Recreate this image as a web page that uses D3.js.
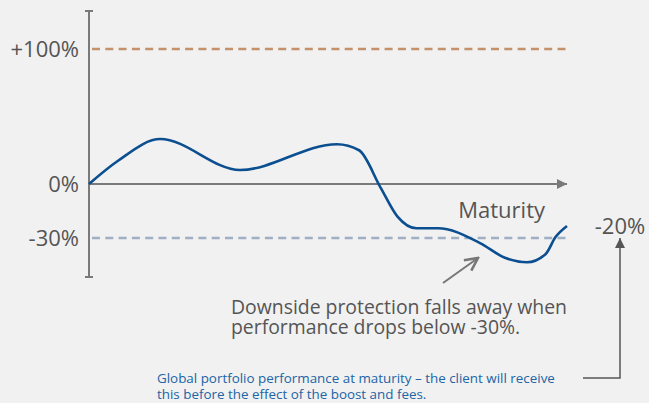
<!DOCTYPE html>
<html>
<head>
<meta charset="utf-8">
<script src="https://cdn.jsdelivr.net/npm/d3@7"></script>
<style>
  body { margin: 0; background: #f1f1f1; }
  svg { display: block; font-family: "Open Sans", sans-serif; }
</style>
</head>
<body>
<svg id="chart"></svg>
<script>
// maturity progress (0..100) and portfolio performance (%)
var timeline = [0, 6, 14.9, 31.6, 51.9, 56.5, 61, 64.5, 68.5, 73, 81.8, 87, 91.6, 95.5, 97.6, 100];
var performance = [0, 17, 33.3, 10.4, 29.5, 25, -2, -18, -24.6, -24.6, -32.8, -41, -43.5, -39, -29.5, -23.3];
var levels = [100, 0, -30];
var levelLabels = ["+100%", "0%", "-30%"];
var finalLabel = "-20%";

var width = 649, height = 403;
var svg = d3.select("#chart").attr("width", width).attr("height", height);

var x = d3.scaleLinear().domain([0, 100]).range([89, 567]);
// schematic: the y scale is not uniform above and below zero
var y = d3.scaleLinear().domain([-30, 0, 100]).range([238, 184, 49]);

var axisGrey = "#7a7a7a";
var textGrey = "#555";

var defs = svg.append("defs");
defs.append("marker").attr("id", "tri")
    .attr("viewBox", "0 0 10 10").attr("refX", 10).attr("refY", 5)
    .attr("markerWidth", 14).attr("markerHeight", 10).attr("markerUnits", "userSpaceOnUse")
    .attr("orient", "auto")
  .append("path").attr("d", "M0,0L10,5L0,10Z").attr("fill", axisGrey);
defs.append("marker").attr("id", "triUp")
    .attr("viewBox", "0 0 10 10").attr("refX", 10).attr("refY", 5)
    .attr("markerWidth", 14).attr("markerHeight", 10).attr("markerUnits", "userSpaceOnUse")
    .attr("orient", "auto")
  .append("path").attr("d", "M0,0L10,5L0,10Z").attr("fill", "#555");
defs.append("marker").attr("id", "chev")
    .attr("viewBox", "0 0 10 10").attr("refX", 9).attr("refY", 5)
    .attr("markerWidth", 16).attr("markerHeight", 16).attr("markerUnits", "userSpaceOnUse")
    .attr("orient", "auto")
  .append("path").attr("d", "M1,1L9,5L1,9").attr("fill", "none")
    .attr("stroke", "#777").attr("stroke-width", 1.6);

// dashed level lines
svg.append("line")
    .attr("x1", x(0) + 3).attr("x2", x(100))
    .attr("y1", y(100)).attr("y2", y(100))
    .attr("stroke", "#c4916a").attr("stroke-width", 2.5)
    .attr("stroke-dasharray", "8,5.3");
svg.append("line")
    .attr("x1", x(0) + 3).attr("x2", x(100))
    .attr("y1", y(-30)).attr("y2", y(-30))
    .attr("stroke", "#9fb0c5").attr("stroke-width", 2.5)
    .attr("stroke-dasharray", "8,5.3");

// y axis with end ticks
var yTop = 11, yBottom = 277;
svg.append("line").attr("x1", x(0)).attr("x2", x(0)).attr("y1", yTop).attr("y2", yBottom)
    .attr("stroke", axisGrey).attr("stroke-width", 2);
[yTop, yBottom].forEach(function(v) {
  svg.append("line").attr("x1", x(0) - 4).attr("x2", x(0) + 4).attr("y1", v).attr("y2", v)
      .attr("stroke", axisGrey).attr("stroke-width", 2);
});

// x axis with arrow
svg.append("line").attr("x1", x(0)).attr("x2", x(100)).attr("y1", y(0)).attr("y2", y(0))
    .attr("stroke", axisGrey).attr("stroke-width", 2).attr("marker-end", "url(#tri)");

svg.selectAll("text.level").data(levels).enter().append("text")
    .attr("class", "level")
    .attr("x", 79).attr("y", function(d) { return y(d); })
    .attr("dy", "0.35em").attr("text-anchor", "end")
    .attr("font-size", 22).attr("fill", textGrey)
    .text(function(d, i) { return levelLabels[i]; });

svg.append("text").attr("x", 545).attr("y", 218)
    .attr("text-anchor", "end").attr("font-size", 22).attr("fill", textGrey)
    .text("Maturity");

// performance curve
var pts = timeline.map(function(t, i) { return [t, performance[i]]; });
var line = d3.line().x(function(d) { return x(d[0]); }).y(function(d) { return y(d[1]); })
    .curve(d3.curveMonotoneX);
svg.append("path").datum(pts)
    .attr("d", line).attr("fill", "none")
    .attr("stroke", "#0b4f91").attr("stroke-width", 2.6);

// final value label and pointer
svg.append("text").attr("x", 620).attr("y", 226).attr("dy", "0.35em")
    .attr("text-anchor", "middle").attr("font-size", 22).attr("fill", textGrey)
    .text(finalLabel);
svg.append("path").attr("d", "M583,378H620V238")
    .attr("fill", "none").attr("stroke", "#555").attr("stroke-width", 1.5)
    .attr("marker-end", "url(#triUp)");

// annotation arrow
svg.append("line").attr("x1", 443).attr("y1", 283).attr("x2", 478).attr("y2", 258)
    .attr("stroke", "#777").attr("stroke-width", 2).attr("marker-end", "url(#chev)");

var noteLines = ["Downside protection falls away when", "performance drops below -30%."];
svg.selectAll("text.note").data(noteLines).enter().append("text")
    .attr("class", "note")
    .attr("x", 231).attr("y", function(d, i) { return 314 + i * 20; })
    .attr("font-size", 19.4).attr("fill", textGrey)
    .text(function(d) { return d; });

var footLines = ["Global portfolio performance at maturity \u2013 the client will receive",
                 "this before the effect of the boost and fees."];
svg.selectAll("text.foot").data(footLines).enter().append("text")
    .attr("class", "foot")
    .attr("x", 157).attr("y", function(d, i) { return 383 + i * 16; })
    .attr("font-size", 13.4).attr("fill", "#2064a6")
    .text(function(d) { return d; });
</script>
</body>
</html>
